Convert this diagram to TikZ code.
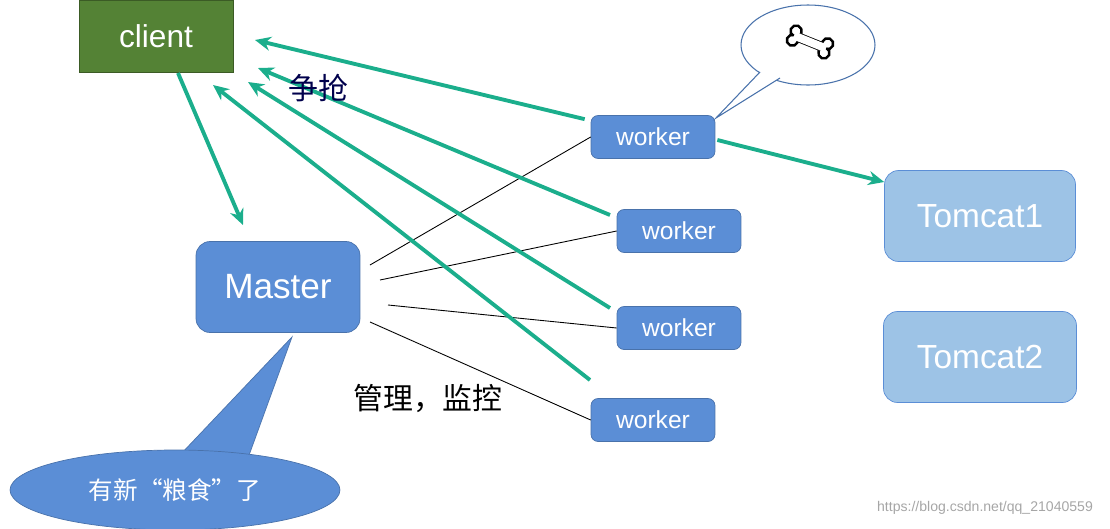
\documentclass[tikz,border=0pt]{standalone}
\usepackage{fontspec}
\setmainfont{Liberation Sans}
\newfontfamily\cjk{Noto Sans CJK SC}
\usetikzlibrary{arrows.meta,shapes.geometric}
\definecolor{gr}{HTML}{548235}
\definecolor{mb}{HTML}{5B8ED6}
\definecolor{lb}{HTML}{9DC3E6}
\definecolor{tl}{HTML}{1BAE8C}
\tikzset{
 box/.style={draw=mb!80!black,fill=mb,rounded corners=4pt,text=white,inner sep=0pt},
 tbox/.style={draw=mb,fill=lb,rounded corners=8pt,text=white,inner sep=0pt,font=\fontsize{19}{21}\selectfont},
 garrow/.style={draw=tl,line width=2.2pt,-{Stealth[length=9pt,width=8pt]}},
 thin/.style={draw=black,line width=0.5pt}
}
\begin{document}
\begin{tikzpicture}[x=0.02cm,y=-0.02cm]
\useasboundingbox (0,0) rectangle (1110,528);
\node[draw=gr!70!black,fill=gr,text=white,minimum width=3.08cm,minimum height=1.44cm,inner sep=0pt,font=\fontsize{18}{20}\selectfont] (client) at (156,36) {client};
\node[box,minimum width=3.28cm,minimum height=1.82cm,rounded corners=8pt,font=\fontsize{20}{22}\selectfont] (master) at (278,287) {Master};
\node[box,minimum width=2.48cm,minimum height=0.86cm,font=\fontsize{14}{16}\selectfont] (w1) at (653,137) {worker};
\node[box,minimum width=2.48cm,minimum height=0.86cm,font=\fontsize{14}{16}\selectfont] (w2) at (679,231) {worker};
\node[box,minimum width=2.48cm,minimum height=0.86cm,font=\fontsize{14}{16}\selectfont] (w3) at (679,328) {worker};
\node[box,minimum width=2.48cm,minimum height=0.86cm,font=\fontsize{14}{16}\selectfont] (w4) at (653,420) {worker};
\node[tbox,minimum width=3.82cm,minimum height=1.82cm] (t1) at (980,216) {Tomcat1};
\node[tbox,minimum width=3.86cm,minimum height=1.82cm] (t2) at (980,357) {Tomcat2};
% speech bubble
\coordinate (bt) at (716,118);
\node[ellipse,draw=mb!80!black,fill=white,minimum width=2.68cm,minimum height=1.6cm,line width=0.6pt] (bub) at (808,45) {};
\fill[white] (760,72) -- (780,78) -- (bt) -- cycle;
\draw[draw=mb!80!black,line width=0.6pt] (760,72) -- (bt) -- (780,78);
\begin{scope}[shift={(810,42)},rotate=-22]
 \foreach \p in {(-17,-5),(-17,5),(17,-5),(17,5)} \draw[line width=1.5pt,fill=white] \p circle (5.5);
 \fill[white] (-17,-4.5) rectangle (17,4.5);
 \draw[line width=1.5pt] (-13,-3.5) -- (13,-3.5) (-13,3.5) -- (13,3.5);
 \foreach \p in {(-17,-5),(-17,5),(17,-5),(17,5)} \fill[white] \p circle (4);
 \fill[white] (-17,-4) rectangle (17,4);
\end{scope}
% callout
\coordinate (ct) at (292,337);
\draw[draw=mb!80!black,fill=mb] (180,455) -- (ct) -- (248,458);
\node[ellipse,draw=mb!80!black,fill=mb,minimum width=6.6cm,minimum height=1.6cm,text=white,font=\cjk\fontsize{14}{16}\selectfont] (call) at (175,490) {有新“粮食”了};
\fill[mb] (185,452) -- (245,455) -- (240,468) -- (190,468) -- cycle;
% thin lines
\draw[thin] (370,265) -- (w1.west);
\draw[thin] (380,280) -- (w2.west);
\draw[thin] (388,305) -- (w3.west);
\draw[thin] (370,322) -- (w4.west);
% green arrows
\draw[garrow] (w1.north west) ++(-6,4) -- (255,40);
\draw[garrow] (610,215) -- (258,68);
\draw[garrow] (610,308) -- (248,82);
\draw[garrow] (590,380) -- (213,85);
\draw[garrow] (178,73) -- (243,225);
\draw[garrow] (w1.east) ++(2,3) -- (t1.west |- 0,182);
\node[text=blue!30!black,font=\cjk\fontsize{17}{19}\selectfont] (zq) at (318,88) {争抢};
\node[font=\cjk\fontsize{17}{19}\selectfont] (gl) at (428,398) {管理，监控};
\node[text=gray!70,font=\fontsize{8}{9}\selectfont] (wm) at (985,508) {https://blog.csdn.net/qq\_21040559};
\end{tikzpicture}
\end{document}
